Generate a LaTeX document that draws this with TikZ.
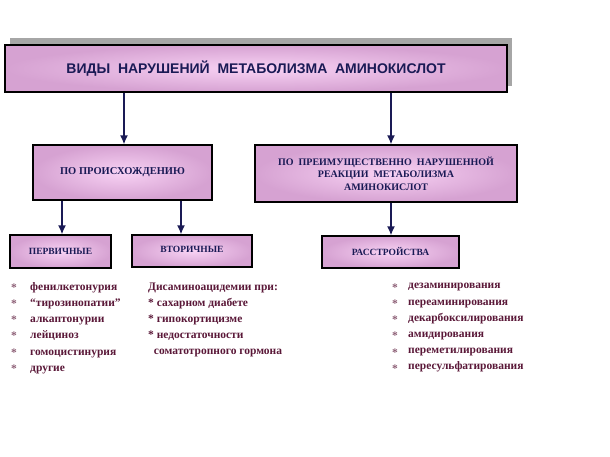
\documentclass[tikz,border=0pt]{standalone}
\usepackage{fontspec}
\usetikzlibrary{arrows.meta}
\setmainfont{Liberation Serif}
\newfontfamily\hd{Liberation Sans}
\definecolor{navy}{HTML}{1A1A55}
\definecolor{maroon}{HTML}{5A1838}
\definecolor{pinkin}{HTML}{F8D2F4}
\definecolor{pinkout}{HTML}{D6A2D2}
\begin{document}
\begin{tikzpicture}[x=1pt,y=-1pt,
 bx/.style={draw=black,line width=1.3pt,inner color=pinkin,outer color=pinkout,text=navy,font=\bfseries\fontsize{10.5}{12}\selectfont,align=center,inner sep=0pt},
 arr/.style={draw=navy,line width=1.4pt,-{Latex[length=9pt,width=8pt]}},
 lst/.style={anchor=west,text=maroon,font=\bfseries\fontsize{11.5}{16.2}\selectfont,align=left,inner sep=0pt}]
\useasboundingbox (0,0) rectangle (610,457);
\fill[gray!70] (10,38) rectangle (512,86);
\node[bx,minimum width=502,minimum height=47,font=\hd\bfseries\fontsize{14}{16}\selectfont] (t) at (256,68.5) {ВИДЫ\ \ НАРУШЕНИЙ\ \ МЕТАБОЛИЗМА\ \ АМИНОКИСЛОТ};
\node[bx,minimum width=179,minimum height=55] (o) at (122.5,172.5) {ПО ПРОИСХОЖДЕНИЮ};
\node[bx,minimum width=262,minimum height=57,font=\bfseries\fontsize{10}{12.5}\selectfont] (r) at (386,173.5) {ПО\ \ ПРЕИМУЩЕСТВЕННО\ \ НАРУШЕННОЙ\\РЕАКЦИИ\ \ МЕТАБОЛИЗМА\\АМИНОКИСЛОТ};
\node[bx,minimum width=101,minimum height=33,font=\bfseries\fontsize{9.5}{11}\selectfont] (p) at (60.5,251.5) {ПЕРВИЧНЫЕ};
\node[bx,minimum width=120,minimum height=32,font=\bfseries\fontsize{9.5}{11}\selectfont] (v) at (192,251) {\raisebox{3pt}{ВТОРИЧНЫЕ}};
\node[bx,minimum width=137,minimum height=32,font=\bfseries\fontsize{9.5}{11}\selectfont] (s) at (390.5,252) {РАССТРОЙСТВА};
\draw[arr] (t.south -| 124,0) -- (o.north -| 124,0);
\draw[arr] (t.south -| 391,0) -- (r.north -| 391,0);
\draw[arr] (o.south -| 62,0) -- (p.north -| 62,0);
\draw[arr] (o.south -| 181,0) -- (v.north -| 181,0);
\draw[arr] (r.south -| 391,0) -- (s.north -| 391,0);
\node[lst,text=maroon!70] (st1) at (11,328) {*\\*\\*\\*\\*\\*};
\node[lst] (l1) at (30,328) {фенилкетонурия\\“тирозинопатии”\\алкаптонурии\\лейциноз\\гомоцистинурия\\другие};
\node[lst] (l2) at (148,320) {Дисаминоацидемии при:\\* сахарном диабете\\* гипокортицизме\\* недостаточности\\\ \ соматотропного гормона};
\node[lst,text=maroon!70] (st3) at (392,328) {*\\*\\*\\*\\*\\*};
\node[lst] (l3) at (408,328) {дезаминирования\\переаминирования\\декарбоксилирования\\амидирования\\переметилирования\\пересульфатирования};
\end{tikzpicture}
\end{document}
